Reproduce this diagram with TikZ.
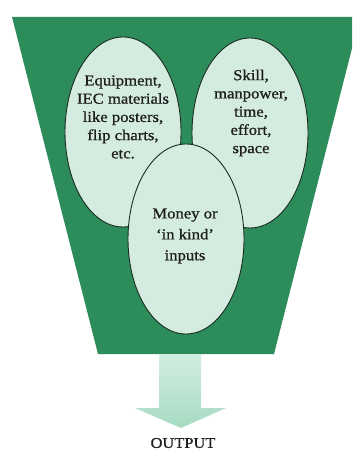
\documentclass[tikz,border=0pt]{standalone}
\usepackage{fontspec}
\setmainfont{Liberation Serif}[FakeStretch=1.1,FakeBold=0.9]
\usetikzlibrary{shapes.geometric}
\definecolor{funnelgreen}{HTML}{2C8D5B}
\definecolor{ovalfill}{HTML}{D3ECDF}
\definecolor{ovalline}{HTML}{1C2A22}
\definecolor{txtcol}{HTML}{1E1E1E}
\definecolor{arrowtop}{HTML}{D2EEE1}
\definecolor{arrowbot}{HTML}{A6DBC2}
\tikzset{
  oval/.style={ellipse, draw=ovalline, line width=0.9bp, fill=ovalfill,
    minimum width=116bp, minimum height=190bp, inner sep=0pt},
  ovaltext/.style={align=center, text=txtcol, inner sep=0pt,
    font=\fontsize{15.2}{18.3}\selectfont},
  ovaltextwide/.style={align=center, text=txtcol, inner sep=0pt,
    font=\fontsize{15.2}{21}\selectfont},
  outtext/.style={text=txtcol, inner sep=0pt, font=\fontsize{15}{18}\selectfont}
}
\begin{document}
\begin{tikzpicture}[x=1bp,y=-1bp]
\useasboundingbox (0,0) rectangle (352,451);
\clip (0,0) rectangle (352,451);
\fill[white] (0,0) rectangle (352,451);
% funnel
\fill[funnelgreen] (12,17) -- (360,17) -- (274,354) -- (98,354) -- cycle;
\coordinate (funnelbottom) at (180,354);
% ovals
\node[oval] (equip) at (123,132) {};
\node[oval] (skill) at (250,133) {};
\node[oval] (money) at (186,239) {};
\node[ovaltext] (equiptxt) at (123,117) {Equipment,\\IEC materials\\like posters,\\flip charts,\\etc.};
\node[ovaltext] (skilltxt) at (251,113) {Skill,\\manpower,\\time,\\effort,\\space};
\node[ovaltextwide] (moneytxt) at (185,236) {Money or\\`in kind'\\inputs};
% output arrow
\node[outtext] (output) at (183,443) {OUTPUT};
\coordinate (tip) at (181,428);
\shade[top color=arrowtop, bottom color=arrowbot]
  (159,354) -- (201,354) -- (201,408) -- (226,408) -- (tip)
  -- (135,408) -- (159,408) -- cycle;
\end{tikzpicture}
\end{document}
